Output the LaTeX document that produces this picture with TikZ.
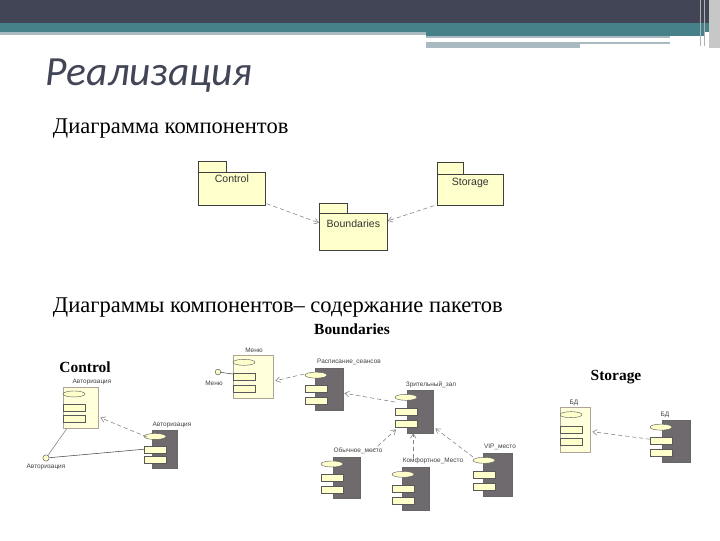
\documentclass[tikz,border=0pt]{standalone}
\usepackage{fontspec}
\setmainfont{Liberation Serif}
\setsansfont{Liberation Sans}
\newfontfamily\titlefont{Carlito}
\usetikzlibrary{positioning,calc,arrows.meta}

\definecolor{headdark}{HTML}{414556}
\definecolor{headteal}{HTML}{468088}
\definecolor{headgrey}{HTML}{A9BBC0}
\definecolor{pkgfill}{HTML}{FFFFCC}
\definecolor{compdark}{HTML}{6E6A6E}
\definecolor{compline}{HTML}{8A7D66}

\tikzset{
  pkg/.style={draw=black!75, fill=pkgfill, line width=0.5pt, inner sep=0pt},
  pkgtxt/.style={font=\sffamily\fontsize{7.5}{8}\selectfont, text=black!80, inner sep=1pt},
  lightbody/.style={draw=compline!70, fill=pkgfill!70, line width=0.3pt},
  darkbody/.style={draw=black!60, fill=compdark, line width=0.3pt},
  part/.style={draw=black!65, fill=pkgfill, line width=0.3pt},
  lbl/.style={font=\sffamily\fontsize{4.6}{5}\selectfont, text=black!75, inner sep=0.5pt},
  dep/.style={densely dashed, gray, line width=0.4pt, -{Straight Barb[length=3pt,width=4pt]}},
  wire/.style={gray, line width=0.4pt},
  iface/.style={circle, draw=black!70, fill=pkgfill, minimum size=4.5pt, inner sep=0pt, line width=0.3pt},
  heading/.style={anchor=base west, font=\fontsize{16}{18}\selectfont},
  pkgname/.style={anchor=base, font=\bfseries\fontsize{11}{12}\selectfont},
}

% component icon: name, x, y, width, height, body style, offset of the parts
\newcommand{\umlcomp}[7]{%
  \node[#6, anchor=north west, inner sep=0pt,
        minimum width={#4*0.025cm}, minimum height={#5*0.025cm}] (#1) at (#2,#3) {};
  \draw[part] ({#2+#7+11},{#3+#5*0.17}) ellipse (11 and 3);
  \draw[part] ({#2+#7},{#3+#5*0.42}) rectangle ++(22,7);
  \draw[part] ({#2+#7},{#3+#5*0.7}) rectangle ++(22,7);
}

\begin{document}
\begin{tikzpicture}[x=0.025cm, y=-0.025cm]
    \useasboundingbox (0,0) rectangle (720,540);

    % Header bands
    \fill[headdark] (0,0) rectangle (720,23);
    \fill[headteal] (0,23) rectangle (720,32);
    \fill[headgrey] (0,32) rectangle (426,35);
    \fill[headteal] (426,32) rectangle (705,36);
    \fill[headgrey] (426,36) rectangle (670,37.5);
    \fill[headgrey] (426,41.5) rectangle (670,44);
    \fill[headgrey] (426,44) rectangle (580,48);
    \fill[black!22] (709,0) rectangle (720,48);
    \draw[black!30] (700,0) -- (700,46);
    \draw[black!30] (704,0) -- (704,46);

    % Titles
    \node[anchor=base west, text=headdark,
          font=\titlefont\itshape\fontsize{29.5}{30}\selectfont] (title) at (41,85) {Реализация};
    \node[heading] (head1) at (48,133) {Диаграмма компонентов};
    \node[heading] (head2) at (48,312) {Диаграммы компонентов– содержание пакетов};

    % Package diagram
    \node[pkg, anchor=north west, minimum width={67*0.025cm}, minimum height={33*0.025cm}] (control) at (198,172) {};
    \draw[pkg] (control.north west) rectangle ++(28,-11);
    \node[pkgtxt, below=1pt of control.north] (controlt) {Control};

    \node[pkg, anchor=north west, minimum width={66*0.025cm}, minimum height={31*0.025cm}] (storage) at (437,174) {};
    \draw[pkg] (storage.north west) rectangle ++(26,-12);
    \node[pkgtxt, below=1.5pt of storage.north] (storaget) {Storage};

    \node[pkg, anchor=north west, minimum width={68*0.025cm}, minimum height={37*0.025cm}] (bound) at (319,213) {};
    \draw[pkg] (bound.north west) rectangle ++(28,-10);
    \node[pkgtxt, below=4pt of bound.north] (boundt) {Boundaries};

    \draw[dep] ($(control.south east)+(1,-2)$) -- ($(bound.west)+(0,-9)$);
    \draw[dep] ($(storage.south west)+(-3,0)$) -- ($(bound.east)+(0,-11)$);

    % Package names
    \node[pkgname] (pcontrol) at (85,372) {Control};
    \node[pkgname] (pbound) at (352,334) {Boundaries};
    \node[pkgname] (pstorage) at (616,380) {Storage};

    % Control
    \umlcomp{authspec}{63}{387}{35}{41}{lightbody}{0}
    \umlcomp{authbody}{152}{430}{25}{38}{darkbody}{-8}
    \node[iface] (authif) at (46,458) {};
    \node[lbl] (authspecl) at (92,382) {Авторизация};
    \node[lbl] (authbodyl) at (172,425) {Авторизация};
    \node[lbl, below=1pt of authif] (authifl) {Авторизация};
    \draw[wire] (authif) -- ($(authspec.south west)+(4,0)$);
    \draw[wire, black!70] (authif) -- ($(authbody.west)+(-8,0)$);
    \draw[dep] ($(authbody.north west)+(-5,7)$) -- ($(authspec.east)+(2,10)$);

    % Boundaries
    \umlcomp{menu}{233}{355}{40}{43}{lightbody}{0}
    \umlcomp{sched}{315}{368}{28}{42}{darkbody}{-10}
    \umlcomp{hall}{407}{390}{26}{43}{darkbody}{-12}
    \umlcomp{seat}{333}{457}{27}{41}{darkbody}{-12}
    \umlcomp{comfort}{402}{467}{27}{43}{darkbody}{-10}
    \umlcomp{vip}{483}{453}{29}{43}{darkbody}{-10}
    \node[iface, minimum size=4pt] (menuif) at (218,372) {};
    \node[lbl] (menul) at (254,350) {Меню};
    \node[lbl] (menuifl) at (214,383) {Меню};
    \node[lbl] (schedl) at (349,362) {Расписание\_сеансов};
    \node[lbl] (halll) at (431,385) {Зрительный\_зал};
    \node[lbl] (seatl) at (358,451) {Обычное\_место};
    \node[lbl] (comfortl) at (433,461) {Комфортное\_Место};
    \node[lbl] (vipl) at (500,447) {VIP\_место};
    \draw[wire, black!70] (menuif) -- ($(menu.north west)+(0,19)$);
    \draw[dep] ($(sched.north west)+(-11,6)$) -- ($(menu.east)+(2,4)$);
    \draw[dep] ($(hall.north west)+(-12,12)$) -- ($(sched.east)+(1,4)$);
    \draw[dep] ($(seat.north east)+(12,-6)$) -- ($(hall.south west)+(-11,-4)$);
    \draw[dep] ($(comfort.north)+(-2.5,-9)$) -- ($(hall.south)+(-7,0)$);
    \draw[dep] ($(vip.north west)+(-10,4)$) -- ($(hall.south east)+(2,-5)$);

    % Storage
    \umlcomp{dbspec}{560}{407}{30}{45}{lightbody}{0}
    \umlcomp{dbbody}{662}{420}{28}{42}{darkbody}{-12}
    \node[lbl] (dbspecl) at (574,403) {БД};
    \node[lbl] (dbbodyl) at (665,415) {БД};
    \draw[dep] ($(dbbody.west)+(-12,-2)$) -- ($(dbspec.east)+(2,2)$);

\end{tikzpicture}
\end{document}
